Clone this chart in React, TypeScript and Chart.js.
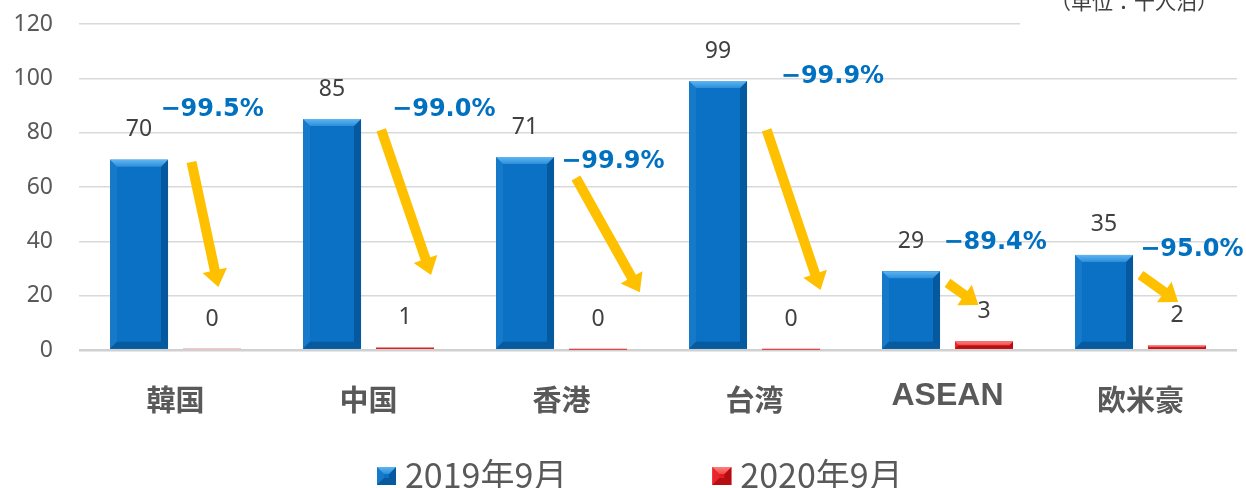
import React, { useEffect, useRef } from "react";
import { Chart, registerables } from "chart.js";

Chart.register(...registerables);

const categories = ["韓国", "中国", "香港", "台湾", "ASEAN", "欧米豪"];
const seriesNames = ["2019年9月", "2020年9月"];
const values2019 = [70, 85, 71, 99, 29, 35];
const values2020 = [0.35, 0.85, 0.07, 0.1, 3.1, 1.6];
const changeLabels = ["−99.5%", "−99.0%", "−99.9%", "−99.9%", "−89.4%", "−95.0%"];
const yTickMin = 0;
const yTickMax = 120;
const yTickStep = 20;
const unitLabel = "（単位：千人泊）";

// annotation anchors in data units: [category offset, value]
const changeLabelAnchors = [
  [0.19, 88.3],
  [0.39, 88.3],
  [0.266, 69.2],
  [0.404, 100.5],
  [0.247, 39.4],
  [0.266, 36.8],
];
const arrowTails = [
  [0.083, 69.2],
  [0.066, 81],
  [0.075, 63.3],
  [0.063, 81],
  [0.0, 24.7],
  [0.0, 27.6],
];
const arrowTips = [
  [0.222, 23.2],
  [0.324, 27.6],
  [0.406, 21.3],
  [0.342, 22.1],
  [0.16, 16.6],
  [0.195, 17.7],
];

type Pal = { face: string; top: string; topInner: string; left: string; right: string; bottom: string };
const palettes: Pal[] = [
  { face: "#0A71C4", top: "#5FB5F0", topInner: "#2B8FDB", left: "#1679C9", right: "#06599F", bottom: "#075A9E" },
  { face: "#E5191F", top: "#FF8080", topInner: "#F04848", left: "#E8262C", right: "#B30D12", bottom: "#B50F14" },
];

function drawBevel(ctx: CanvasRenderingContext2D, left: number, top: number, w: number, h: number, p: Pal) {
  if (h <= 0.3) return;
  const right = left + w;
  const bottom = top + h;
  ctx.save();
  ctx.fillStyle = p.face;
  ctx.fillRect(left, top, w, h);
  const b = Math.min(7, h / 2, w / 2);
  const poly = (pts: number[][], fill: string | CanvasGradient) => {
    ctx.beginPath();
    ctx.moveTo(pts[0][0], pts[0][1]);
    for (let i = 1; i < pts.length; i++) ctx.lineTo(pts[i][0], pts[i][1]);
    ctx.closePath();
    ctx.fillStyle = fill;
    ctx.fill();
  };
  poly([[left, top], [left + b, top + b], [left + b, bottom - b], [left, bottom]], p.left);
  poly([[right, top], [right - b, top + b], [right - b, bottom - b], [right, bottom]], p.right);
  poly([[left, bottom], [left + b, bottom - b], [right - b, bottom - b], [right, bottom]], p.bottom);
  const g = ctx.createLinearGradient(0, top, 0, top + b);
  g.addColorStop(0, p.top);
  g.addColorStop(1, p.topInner);
  poly([[left, top], [right, top], [right - b, top + b], [left + b, top + b]], g);
  ctx.restore();
}

function drawArrow(ctx: CanvasRenderingContext2D, x0: number, y0: number, x1: number, y1: number) {
  const dx = x1 - x0;
  const dy = y1 - y0;
  const len = Math.hypot(dx, dy);
  const ux = dx / len;
  const uy = dy / len;
  const nx = -uy;
  const ny = ux;
  const bodyW = 10;
  const headW = 25;
  const headL = Math.min(17, len * 0.55);
  const neckX = x1 - ux * headL;
  const neckY = y1 - uy * headL;
  ctx.save();
  ctx.fillStyle = "#FFC000";
  ctx.beginPath();
  ctx.moveTo(x0 + (nx * bodyW) / 2, y0 + (ny * bodyW) / 2);
  ctx.lineTo(neckX + (nx * bodyW) / 2, neckY + (ny * bodyW) / 2);
  ctx.lineTo(neckX + (nx * headW) / 2, neckY + (ny * headW) / 2);
  ctx.lineTo(x1, y1);
  ctx.lineTo(neckX - (nx * headW) / 2, neckY - (ny * headW) / 2);
  ctx.lineTo(neckX - (nx * bodyW) / 2, neckY - (ny * bodyW) / 2);
  ctx.lineTo(x0 - (nx * bodyW) / 2, y0 - (ny * bodyW) / 2);
  ctx.closePath();
  ctx.fill();
  ctx.restore();
}

const unitPlugin = {
  id: "unitLabel",
  beforeDatasetsDraw(chart: any) {
    const ctx = chart.ctx as CanvasRenderingContext2D;
    ctx.save();
    ctx.fillStyle = "#FFFFFF";
    ctx.fillRect(1020, 0, chart.width - 1020, 30);
    ctx.fillStyle = "#404040";
    ctx.font = "21px 'Noto Sans CJK JP'";
    ctx.textAlign = "left";
    ctx.textBaseline = "middle";
    ctx.fillText(unitLabel, 1050, 1);
    ctx.restore();
  },
};

const decorPlugin = {
  id: "decor",
  afterDatasetsDraw(chart: any) {
    const ctx = chart.ctx as CanvasRenderingContext2D;
    const xs = chart.scales.x;
    const ys = chart.scales.y;
    chart.data.datasets.forEach((ds: any, di: number) => {
      const meta = chart.getDatasetMeta(di);
      meta.data.forEach((bar: any) => {
        const { x, y, base, width } = bar.getProps(["x", "y", "base", "width"], true);
        drawBevel(ctx, x - width / 2, y, width, base - y, palettes[di]);
      });
    });
    ctx.save();
    ctx.font = "23px 'Noto Sans'";
    ctx.fillStyle = "#404040";
    ctx.textAlign = "center";
    ctx.textBaseline = "middle";
    chart.data.datasets.forEach((ds: any, di: number) => {
      const meta = chart.getDatasetMeta(di);
      meta.data.forEach((bar: any, i: number) => {
        const { x, y } = bar.getProps(["x", "y"], true);
        ctx.fillText(String(Math.round(ds.data[i])), x, y - 30);
      });
    });
    ctx.restore();
    const catW = xs.width / categories.length;
    const toPx = (i: number, a: number[]) => [xs.getPixelForValue(i) + a[0] * catW, ys.getPixelForValue(a[1])];
    categories.forEach((_, i) => {
      const [x0, y0] = toPx(i, arrowTails[i]);
      const [x1, y1] = toPx(i, arrowTips[i]);
      drawArrow(ctx, x0, y0, x1, y1);
    });
    ctx.save();
    ctx.font = "bold 24px 'DejaVu Sans'";
    ctx.fillStyle = "#0070C0";
    ctx.textAlign = "center";
    ctx.textBaseline = "middle";
    categories.forEach((_, i) => {
      const [lx, ly] = toPx(i, changeLabelAnchors[i]);
      ctx.fillText(changeLabels[i], lx, ly);
    });
    ctx.restore();
  },
  afterDraw(chart: any) {
    const ctx = chart.ctx as CanvasRenderingContext2D;
    ctx.save();
    ctx.font = "34px 'Noto Sans CJK JP'";
    ctx.textAlign = "left";
    ctx.textBaseline = "middle";
    const cy = 476;
    const boxW = 19;
    const boxH = 18;
    let x = 377;
    seriesNames.forEach((name, i) => {
      drawBevel(ctx, x, cy - boxH / 2, boxW, boxH, palettes[i]);
      const tx = x + boxW + 9;
      ctx.fillStyle = "#595959";
      ctx.fillText(name, tx, cy - 1);
      x = tx + ctx.measureText(name).width + 145;
    });
    ctx.restore();
  },
};

export default function App() {
  const ref = useRef<HTMLCanvasElement | null>(null);
  useEffect(() => {
    if (!ref.current) return;
    const chart = new Chart(ref.current, {
      type: "bar",
      data: {
        labels: categories,
        datasets: [
          {
            label: seriesNames[0],
            data: values2019,
            backgroundColor: palettes[0].face,
            borderWidth: 0,
            categoryPercentage: 0.756,
            barPercentage: 0.795,
          },
          {
            label: seriesNames[1],
            data: values2020,
            backgroundColor: palettes[1].face,
            borderWidth: 0,
            categoryPercentage: 0.756,
            barPercentage: 0.795,
          },
        ],
      },
      options: {
        animation: false,
        responsive: true,
        maintainAspectRatio: false,
        layout: { padding: { left: 15, right: 9, top: 24, bottom: 70 } },
        plugins: {
          legend: { display: false },
          tooltip: { enabled: false },
        },
        scales: {
          x: {
            grid: { display: false, drawTicks: false },
            border: { display: false },
            afterFit: (s: any) => {
              s.height = 68;
              s.paddingLeft = 0;
              s.paddingRight = 0;
            },
            ticks: {
              padding: 33,
              color: "#595959",
              font: (c: any) =>
                c.index === 4
                  ? { family: "'Liberation Sans'", size: 32, weight: "bold", lineHeight: 0.8 }
                  : { family: "'Noto Sans CJK JP'", size: 29, weight: "bold", lineHeight: 1.2 },
            },
          },
          y: {
            min: yTickMin,
            max: yTickMax,
            border: { display: false },
            afterFit: (s: any) => {
              s.width = 64;
              s.paddingTop = 0;
              s.paddingBottom = 0;
            },
            grid: {
              drawTicks: false,
              color: (c: any) => (c.tick && c.tick.value === 0 ? "#D0D0D0" : "#D9D9D9"),
              lineWidth: (c: any) => (c.tick && c.tick.value === 0 ? 2.5 : 1.5),
            },
            ticks: {
              stepSize: yTickStep,
              padding: 26,
              color: "#595959",
              font: { family: "'Noto Sans'", size: 23 },
            },
          },
        },
      },
      plugins: [unitPlugin, decorPlugin],
    });
    return () => chart.destroy();
  }, []);
  return (
    <div style={{ position: "fixed", left: 0, top: 0, width: 1246, height: 488, background: "#fff" }}>
      <canvas ref={ref} />
    </div>
  );
}
